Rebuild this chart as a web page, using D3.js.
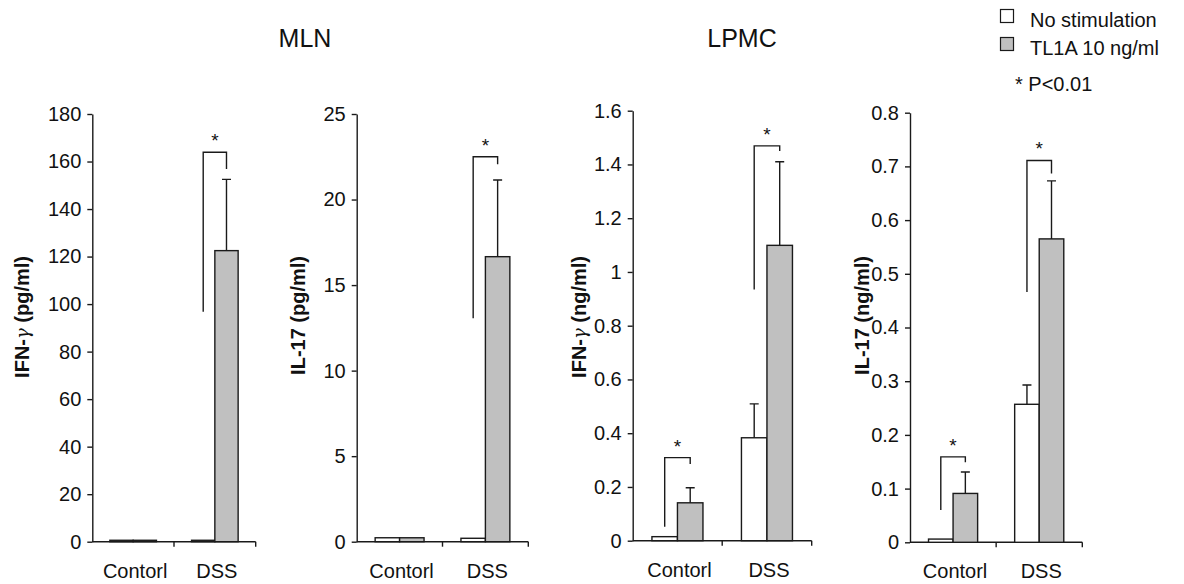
<!DOCTYPE html>
<html>
<head>
<meta charset="utf-8">
<script src="https://cdn.jsdelivr.net/npm/d3@7"></script>
<style>
  html, body { margin: 0; padding: 0; background: #fff; }
  svg { display: block; font-family: "Liberation Sans", Arial, sans-serif; }
</style>
</head>
<body>
<script>
// Groups and stimulation conditions
const categories = ["Contorl", "DSS"];
const seriesNames = ["No stimulation", "TL1A 10 ng/ml"];

// MLN, IFN-γ (pg/ml): mean per [group][condition], SD, significance brackets
const mlnIfnMean = [[0.6, 0.6], [0.6, 122.5]];
const mlnIfnSd = [[0, 0], [0, 30.0]];
const mlnIfnSig = [{ group: "DSS", low: 96.8, top: 163.9, high: 156.9 }];
const mlnIfnTicks = [0, 20, 40, 60, 80, 100, 120, 140, 160, 180];

// MLN, IL-17 (pg/ml)
const mlnIl17Mean = [[0.23, 0.23], [0.2, 16.66]];
const mlnIl17Sd = [[0, 0], [0, 4.48]];
const mlnIl17Sig = [{ group: "DSS", low: 13.06, top: 22.5, high: 22.07 }];
const mlnIl17Ticks = [0, 5, 10, 15, 20, 25];

// LPMC, IFN-γ (ng/ml)
const lpmcIfnMean = [[0.015, 0.141], [0.383, 1.099]];
const lpmcIfnSd = [[0, 0.056], [0.126, 0.311]];
const lpmcIfnSig = [
  { group: "Contorl", low: 0.052, top: 0.309, high: 0.285 },
  { group: "DSS", low: 0.935, top: 1.469, high: 1.45 }
];
const lpmcIfnTicks = [0, 0.2, 0.4, 0.6, 0.8, 1, 1.2, 1.4, 1.6];

// LPMC, IL-17 (ng/ml)
const lpmcIl17Mean = [[0.006, 0.091], [0.257, 0.565]];
const lpmcIl17Sd = [[0, 0.04], [0.036, 0.108]];
const lpmcIl17Sig = [
  { group: "Contorl", low: 0.06, top: 0.159, high: 0.149 },
  { group: "DSS", low: 0.466, top: 0.711, high: 0.687 }
];
const lpmcIl17Ticks = [0, 0.1, 0.2, 0.3, 0.4, 0.5, 0.6, 0.7, 0.8];

const titles = [{ text: "MLN", x: 305 }, { text: "LPMC", x: 742 }];
const pLabel = "* P<0.01";

const fills = ["#ffffff", "#c0c0c0"];
const ink = "#1a1a1a";

// Panel layout
const panels = [
  { label: ["IFN-", "γ", " (pg/ml)"], mean: mlnIfnMean, sd: mlnIfnSd, sig: mlnIfnSig, ticks: mlnIfnTicks,
    x0: 92.3, x1: 255.7, y0: 541.7, yTop: 114, labelX: 22 },
  { label: ["IL-17 (pg/ml)"], mean: mlnIl17Mean, sd: mlnIl17Sd, sig: mlnIl17Sig, ticks: mlnIl17Ticks,
    x0: 356.7, x1: 528.3, y0: 541.7, yTop: 114, labelX: 298 },
  { label: ["IFN-", "γ", " (ng/ml)"], mean: lpmcIfnMean, sd: lpmcIfnSd, sig: lpmcIfnSig, ticks: lpmcIfnTicks,
    x0: 632.7, x1: 811.7, y0: 540.7, yTop: 110.7, labelX: 579 },
  { label: ["IL-17 (ng/ml)"], mean: lpmcIl17Mean, sd: lpmcIl17Sd, sig: lpmcIl17Sig, ticks: lpmcIl17Ticks,
    x0: 910, x1: 1082.3, y0: 542.3, yTop: 112.7, labelX: 862 }
];

const svg = d3.select("body").append("svg")
  .attr("width", 1184).attr("height", 584);

const fmt = d => String(+d.toFixed(2));

panels.forEach(p => {
  const y = d3.scaleLinear().domain([0, d3.max(p.ticks)]).range([p.y0, p.yTop]);
  const x = d3.scaleBand().domain(categories).range([p.x0, p.x1])
    .paddingInner(0.43).paddingOuter(0.215);
  const xs = d3.scaleBand().domain(seriesNames).range([0, x.bandwidth()]);
  const g = svg.append("g");

  // y axis
  const yAxis = g.append("g")
    .attr("transform", `translate(${p.x0},0)`)
    .call(d3.axisLeft(y).tickValues(p.ticks).tickFormat(fmt)
      .tickSize(5).tickPadding(6).tickSizeOuter(0));
  yAxis.select(".domain").attr("stroke", ink).attr("stroke-width", 1.4);
  yAxis.selectAll(".tick line").attr("stroke", ink).attr("stroke-width", 1.4);
  yAxis.selectAll(".tick text").attr("font-size", 20).attr("fill", "#111")
    .attr("font-family", "Liberation Sans, Arial, sans-serif");

  // x axis: baseline, boundary ticks and group labels
  g.append("line")
    .attr("x1", p.x0).attr("x2", p.x1).attr("y1", y(0)).attr("y2", y(0))
    .attr("stroke", ink).attr("stroke-width", 1.4);
  d3.range(1, categories.length + 1).forEach(i => {
    const bx = p.x0 + i * x.step();
    g.append("line").attr("x1", bx).attr("x2", bx)
      .attr("y1", y(0)).attr("y2", y(0) + 5)
      .attr("stroke", ink).attr("stroke-width", 1.4);
  });
  g.selectAll(".xlab").data(categories).join("text")
    .attr("x", d => x(d) + x.bandwidth() / 2 + 2)
    .attr("y", y(0) + 36)
    .attr("text-anchor", "middle").attr("font-size", 20).attr("fill", "#111")
    .text(d => d);

  // y label
  const lab = g.append("text")
    .attr("transform", `translate(${p.labelX},256) rotate(-90)`)
    .attr("text-anchor", "end").attr("dominant-baseline", "central")
    .attr("font-size", 20).attr("font-weight", "bold").attr("fill", "#111");
  p.label.forEach(s => {
    const t = lab.append("tspan").text(s);
    if (s === "γ") t.attr("font-weight", "normal").attr("font-family", "DejaVu Serif, serif")
      .attr("font-style", "italic").attr("font-size", 18);
  });

  // bars
  const cells = [];
  categories.forEach((c, ci) => seriesNames.forEach((s, si) => {
    cells.push({ c, s, si, v: p.mean[ci][si], sd: p.sd[ci][si] });
  }));
  g.selectAll(".bar").data(cells).join("rect")
    .attr("x", d => x(d.c) + xs(d.s))
    .attr("y", d => y(d.v))
    .attr("width", xs.bandwidth())
    .attr("height", d => y(0) - y(d.v))
    .attr("fill", d => fills[d.si])
    .attr("stroke", ink).attr("stroke-width", 1.4);

  // error bars (upper half)
  const eb = cells.filter(d => d.sd > 0);
  const cx = d => x(d.c) + xs(d.s) + xs.bandwidth() / 2;
  g.selectAll(".err").data(eb).join("path")
    .attr("d", d => `M${cx(d)},${y(d.v)}V${y(d.v + d.sd)}M${cx(d) - 4.5},${y(d.v + d.sd)}H${cx(d) + 4.5}`)
    .attr("fill", "none").attr("stroke", ink).attr("stroke-width", 1.4);

  // significance brackets
  p.sig.forEach(s => {
    const lx = x(s.group) + xs(seriesNames[0]) + xs.bandwidth() / 2;
    const rx = x(s.group) + xs(seriesNames[1]) + xs.bandwidth() / 2;
    g.append("path")
      .attr("d", `M${lx},${y(s.low)}V${y(s.top)}H${rx}V${y(s.high)}`)
      .attr("fill", "none").attr("stroke", ink).attr("stroke-width", 1.4);
    g.append("text")
      .attr("x", (lx + rx) / 2).attr("y", y(s.top) - 5)
      .attr("text-anchor", "middle").attr("font-size", 19).attr("fill", "#111")
      .text("*");
  });
});

// panel titles
svg.selectAll(".title").data(titles).join("text")
  .attr("x", d => d.x).attr("y", 47)
  .attr("text-anchor", "middle").attr("font-size", 25).attr("fill", "#111")
  .text(d => d.text);

// legend
const legend = svg.append("g");
seriesNames.forEach((s, i) => {
  legend.append("rect")
    .attr("x", 1000.5).attr("y", 9.5 + i * 28).attr("width", 13).attr("height", 13)
    .attr("fill", fills[i]).attr("stroke", ink).attr("stroke-width", 1.2);
  legend.append("text")
    .attr("x", 1030).attr("y", 27 + i * 27.5)
    .attr("font-size", 20).attr("fill", "#111").text(s);
});
legend.append("text")
  .attr("x", 1015).attr("y", 91)
  .attr("font-size", 20).attr("fill", "#111").text(pLabel);
</script>
</body>
</html>
